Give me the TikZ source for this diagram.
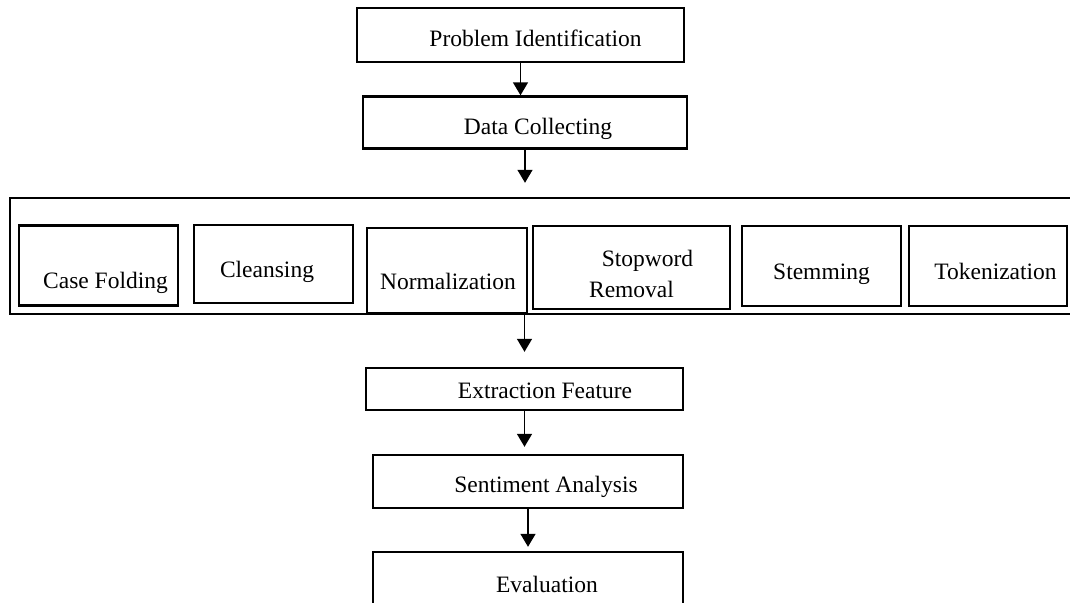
\documentclass[tikz,border=0pt]{standalone}
\usepackage{fontspec}
\setmainfont{Liberation Serif}
\usetikzlibrary{arrows.meta}

\begin{document}
\begin{tikzpicture}[
    % GLOBAL SETTINGS
    x=1pt, y=-1pt,
    font=\fontsize{23.5}{31}\selectfont,
    % STYLES
    stage/.style={draw=black, line width=2.4pt, inner sep=0pt},
    txt/.style={inner sep=0pt, align=center},
    flow/.style={draw, line width=1.5pt, -{Triangle[width=15pt, length=13pt]}}
]

    \useasboundingbox (0,0) rectangle (1070,602);
    \clip (0,0) rectangle (1070,602);

    % Top stages
    \node[stage, minimum width=327pt, minimum height=54pt,
          label={[txt, xshift=15pt, yshift=-3pt]center:Problem Identification}] (prob) at (520.5,35) {};
    \node[stage, minimum width=324pt, minimum height=52pt,
          label={[txt, xshift=13pt, yshift=-6pt]center:Data Collecting}] (data) at (525,122.5) {};

    % Preprocessing block
    \node[stage, minimum width=1075pt, minimum height=116pt] (prepro) at (547.5,256) {};

    \foreach \i/\cx/\cy/\w/\h/\dx/\dy/\txt in {
        1/98.5/265.5/159/80/7/17/Case Folding,
        2/273.5/264/159/78/-6.5/7.5/Cleansing,
        3/447/270.5/160/85/1/11/Normalization,
        4/631.5/267.5/197/83/0/6/{\hspace*{32pt}Stopword\\Removal},
        5/821.5/266/159/80/0/8/Stemming,
        6/988/266/158/80/7.5/5/Tokenization} {
        \node[stage, minimum width=\w pt, minimum height=\h pt,
              label={[txt, xshift=\dx pt, yshift=-\dy pt]center:\txt}] (s\i) at (\cx,\cy) {};
    }

    % Bottom stages
    \node[stage, minimum width=317pt, minimum height=42pt,
          label={[txt, xshift=20.5pt, yshift=-2pt]center:Extraction Feature}] (extract) at (524.5,389) {};
    \node[stage, minimum width=310pt, minimum height=53pt,
          label={[txt, xshift=18pt, yshift=-5.5pt]center:Sentiment Analysis}] (sentiment) at (528,481.5) {};
    \node[stage, minimum width=310pt, minimum height=70pt,
          label={[txt, xshift=19pt, yshift=3pt]center:Evaluation}] (eval) at (528,587) {};

    % Arrows
    \draw[flow] (prob.south) -- (prob.south |- data.north);
    \draw[flow, shorten >=14pt] (data.south) -- (data.south |- prepro.north);
    \draw[flow, shorten >=15pt] (extract.north |- prepro.south) -- (extract.north);
    \draw[flow, shorten >=7pt] (extract.south) -- (extract.south |- sentiment.north);
    \draw[flow, shorten >=4pt] (sentiment.south) -- (sentiment.south |- eval.north);

\end{tikzpicture}
\end{document}
